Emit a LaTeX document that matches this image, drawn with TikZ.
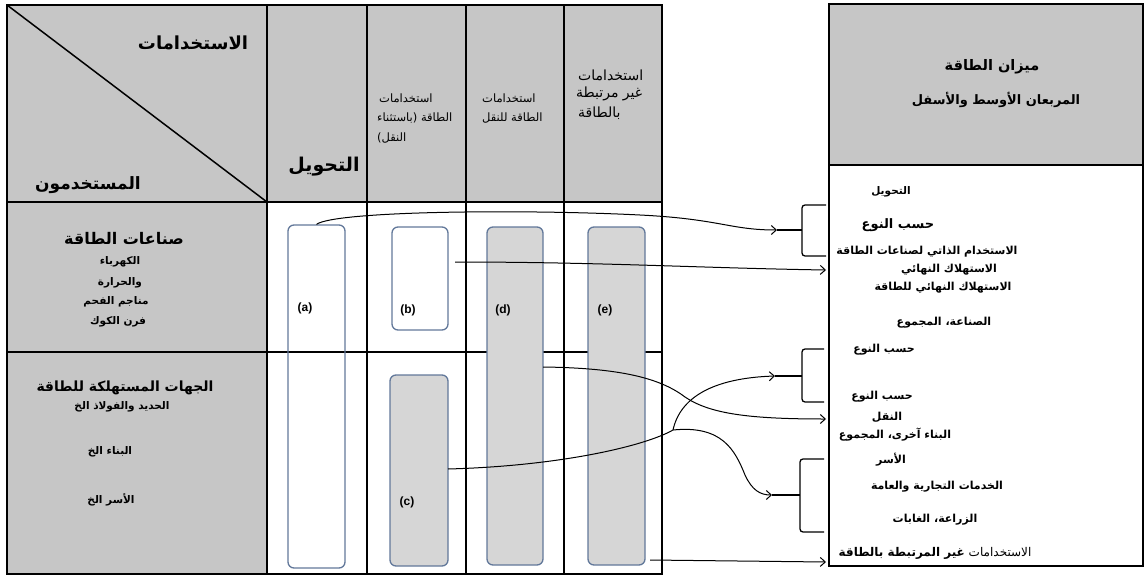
\documentclass[tikz,border=0pt]{standalone}
\usepackage{fontspec}
\usetikzlibrary{arrows.meta}
\TeXXeTstate=1
\newfontfamily\arf[Script=Arabic]{DejaVu Sans}
\newfontfamily\latf{Liberation Sans}
\newcommand{\AR}[1]{\beginR #1\endR}
\newcommand{\fs}[1]{\fontsize{#1}{#1}\selectfont}
\definecolor{hdrgrey}{HTML}{C6C6C6}
\definecolor{boxgrey}{HTML}{D6D6D6}
\definecolor{boxblue}{HTML}{62789A}
\tikzset{
  artext/.style={font=\arf, inner sep=0pt},
  lbl/.style={font=\latf\bfseries\fontsize{12}{13}\selectfont, inner sep=0pt},
  tline/.style={line width=1.5pt},
  thick line/.style={line width=2.6pt},
  ubox/.style={draw=boxblue, line width=1.3pt, rounded corners=6pt, inner sep=0pt},
  conn/.style={line width=1pt, -{Straight Barb[length=5pt,width=9pt,line width=1pt]}},
  plain/.style={line width=1pt},
  brace/.style={line width=1.3pt, rounded corners=3pt},
}
\begin{document}
\begin{tikzpicture}[x=1pt,y=-1pt]
\useasboundingbox (0,0) rectangle (1145,578);
% ---------- left table ----------
\fill[hdrgrey] (7,5) rectangle (662,202);
\fill[hdrgrey] (7,202) rectangle (267,574);
\draw[tline] (7,5) -- (267,202);
\foreach \x in {267,367,466,564} \draw[tline] (\x,5) -- (\x,574);
\draw[thick line] (7,202) -- (662,202);
\draw[thick line] (7,352) -- (662,352);
\draw[line width=2pt] (7,5) rectangle (662,574);
% header texts
\node[artext] (husages) at (193,43) {\bfseries\fs{18}\AR{الاستخدامات}};
\node[artext] (husers) at (88,185) {\bfseries\fs{17}\AR{المستخدمون}};
\node[artext] (hconv) at (324,167) {\bfseries\fs{19}\AR{التحويل}};
\node[artext, anchor=west] (hb1) at (379,98) {\fs{11.5}\AR{استخدامات}};
\node[artext, anchor=west] (hb2) at (377,118) {\fs{11.5}\AR{الطاقة (باستثناء}};
\node[artext, anchor=west] (hb3) at (377,138) {\fs{11.5}\AR{النقل)}};
\node[artext, anchor=west] (hd1) at (482,98) {\fs{11.5}\AR{استخدامات}};
\node[artext, anchor=west] (hd2) at (482,118) {\fs{11.5}\AR{الطاقة للنقل}};
\node[artext, anchor=west] (he1) at (578,75) {\fs{14}\AR{استخدامات}};
\node[artext, anchor=west] (he2) at (576,94) {\fs{14}\AR{غير مرتبطة}};
\node[artext, anchor=west] (he3) at (578,113) {\fs{14}\AR{بالطاقة}};
% row labels
\node[artext] (r1) at (124,238) {\bfseries\fs{16}\AR{صناعات الطاقة}};
\node[artext] (r1a) at (120,262) {\bfseries\fs{10.5}\AR{الكهرباء}};
\node[artext] (r1b) at (120,283) {\bfseries\fs{10.5}\AR{والحرارة}};
\node[artext] (r1c) at (116,302) {\bfseries\fs{10.5}\AR{مناجم الفحم}};
\node[artext] (r1d) at (118,322) {\bfseries\fs{10.5}\AR{فرن الكوك}};
\node[artext] (r2) at (125,388) {\bfseries\fs{14}\AR{الجهات المستهلكة للطاقة}};
\node[artext] (r2a) at (122,407) {\bfseries\fs{10.5}\AR{الحديد والفولاذ الخ}};
\node[artext] (r2b) at (110,452) {\bfseries\fs{10.5}\AR{البناء الخ}};
\node[artext] (r2c) at (111,500) {\bfseries\fs{10.5}\AR{الأسر الخ}};
% rounded boxes
\node[ubox, minimum width=57pt, minimum height=343pt] (a) at (316.5,396.5) {};
\node[ubox, minimum width=56pt, minimum height=103pt] (b) at (420,278.5) {};
\node[ubox, fill=boxgrey, minimum width=58pt, minimum height=191pt] (c) at (419,470.5) {};
\node[ubox, fill=boxgrey, minimum width=56pt, minimum height=338pt] (d) at (515,396) {};
\node[ubox, fill=boxgrey, minimum width=57pt, minimum height=338pt] (e) at (616.5,396) {};
\node[lbl] (la) at (305,308) {(a)};
\node[lbl] (lb) at (408,310) {(b)};
\node[lbl] (ld) at (503,310) {(d)};
\node[lbl] (le) at (605,310) {(e)};
\node[lbl] (lc) at (407,502) {(c)};
% ---------- right panel ----------
\fill[hdrgrey] (829,4) rectangle (1143,165);
\draw[thick line] (829,165) -- (1143,165);
\draw[line width=2pt] (829,4) rectangle (1143,566);
\node[artext] (t1) at (992,67) {\bfseries\fs{14.5}\AR{ميزان الطاقة}};
\node[artext] (t2) at (996,100) {\bfseries\fs{13}\AR{المربعان الأوسط والأسفل}};
\node[artext] (s1) at (891,192) {\bfseries\fs{10.5}\AR{التحويل}};
\node[artext] (s2) at (898,225) {\bfseries\fs{13}\AR{حسب النوع}};
\node[artext] (s3) at (927,252) {\bfseries\fs{11}\AR{الاستخدام الذاتي لصناعات الطاقة}};
\node[artext] (s4) at (949,270) {\bfseries\fs{11}\AR{الاستهلاك النهائي}};
\node[artext] (s5) at (943,288) {\bfseries\fs{11}\AR{الاستهلاك النهائي للطاقة}};
\node[artext] (s6) at (944,323) {\bfseries\fs{11}\AR{الصناعة، المجموع}};
\node[artext] (s7) at (884,350) {\bfseries\fs{11}\AR{حسب النوع}};
\node[artext] (s8) at (882,397) {\bfseries\fs{11}\AR{حسب النوع}};
\node[artext] (s9) at (887,417) {\bfseries\fs{11}\AR{النقل}};
\node[artext] (s10) at (895,435) {\bfseries\fs{11}\AR{البناء آخرى، المجموع}};
\node[artext] (s11) at (891,460) {\bfseries\fs{11}\AR{الأسر}};
\node[artext] (s12) at (937,487) {\bfseries\fs{11}\AR{الخدمات التجارية والعامة}};
\node[artext] (s13) at (935,520) {\bfseries\fs{11}\AR{الزراعة، الغابات}};
\node[artext] (s14) at (935,553) {\fs{12}\AR{الاستخدامات \bfseries غير المرتبطة بالطاقة}};
% ---------- brackets ----------
\draw[brace] (826,205) -- (802,205) -- (802,256) -- (826,256);
\draw[brace] (824,349) -- (802,349) -- (802,402) -- (824,402);
\draw[brace] (824,459) -- (800,459) -- (800,532) -- (824,532);
\coordinate (k1) at (777,230);
\coordinate (k2) at (775,376);
\coordinate (k3) at (772,495);
\draw[line width=1.6pt] (k1) -- (802,230);
\draw[line width=1.6pt] (k2) -- (802,376);
\draw[line width=1.6pt] (k3) -- (800,495);
% ---------- connectors ----------
\coordinate (bout) at (455,262);
\coordinate (cout) at (448,469);
\coordinate (dout) at (543,367);
\coordinate (eout) at (650,560);
\coordinate (jn) at (673,430);
\coordinate (p2) at (826,270);
\coordinate (p4) at (826,419);
\coordinate (p5) at (826,562);
\draw[conn] (a.north) .. controls (335,211) and (520,209) .. (640,215) .. controls (720,219) and (730,230) .. (k1);
\draw[conn] (bout) .. controls (600,262) and (700,268) .. (p2);
\draw[plain] (cout) .. controls (560,466) and (645,446) .. (jn);
\draw[conn] (jn) .. controls (680,398) and (712,378) .. (k2);
\draw[conn] (jn) .. controls (722,425) and (735,450) .. (745,475) .. controls (752,490) and (760,495) .. (k3);
\draw[conn] (dout) .. controls (620,368) and (660,378) .. (685,397) .. controls (710,414) and (750,419) .. (p4);
\draw[conn] (eout) -- (p5);
\end{tikzpicture}
\end{document}
